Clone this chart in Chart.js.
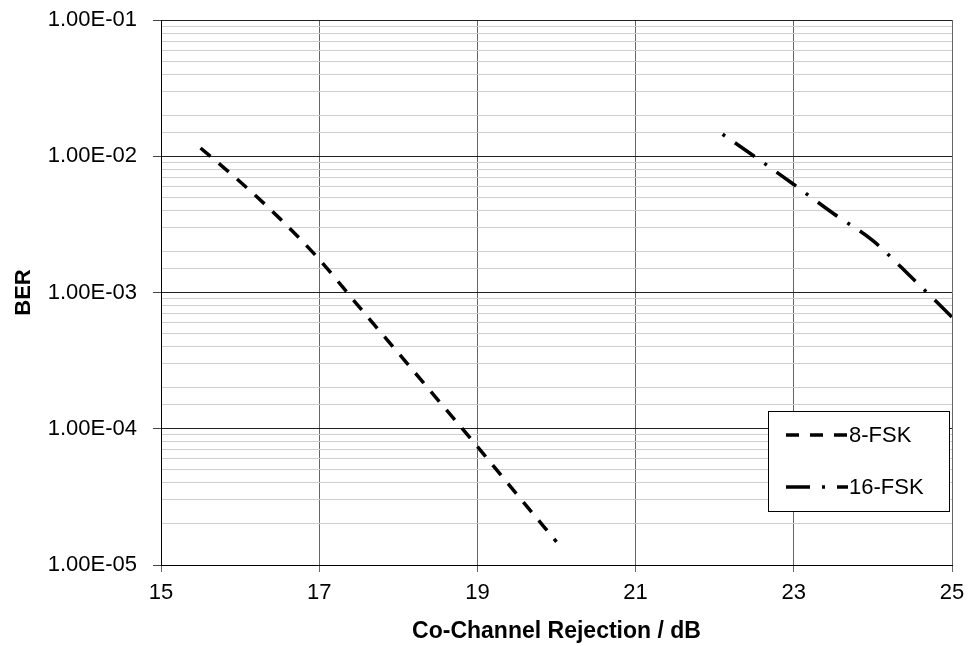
<!DOCTYPE html>
<html>
<head>
<meta charset="utf-8">
<script src="https://cdn.jsdelivr.net/npm/chart.js@4.4.1/dist/chart.umd.min.js"></script>
<style>
  body { margin: 0; background: #fff; }
  #wrap { width: 969px; height: 646px; }
</style>
</head>
<body>
<div id="wrap"><canvas id="chart" width="969" height="646"></canvas></div>
<script>
// values
const fsk8X = [15.5, 16, 16.5, 17, 17.5, 18, 18.5, 19, 19.5, 20];
const fsk8Y = [1.15e-2, 6.5e-3, 3.5e-3, 1.75e-3, 7.9e-4, 3.6e-4, 1.63e-4, 7.4e-5, 3.3e-5, 1.48e-5];
const fsk16X = [22.1, 22.5, 23, 23.5, 24, 24.5, 25];
const fsk16Y = [1.45e-2, 1.0e-2, 6.2e-3, 3.8e-3, 2.4e-3, 1.27e-3, 6.6e-4];
const seriesNames = ["8-FSK", "16-FSK"];
const xTicks = [15, 17, 19, 21, 23, 25];

const FONT = "'Liberation Sans', Arial, sans-serif";

function isDecade(v) {
  const l = Math.log10(v);
  return Math.abs(l - Math.round(l)) < 1e-9;
}
function sci(v) {
  const e = Math.round(Math.log10(v));
  const m = (v / Math.pow(10, e)).toFixed(2);
  const s = e < 0 ? "-" : "+";
  return m + "E" + s + String(Math.abs(e)).padStart(2, "0");
}

const pts = (xs, ys) => xs.map((x, i) => ({x: x, y: ys[i]}));

// legend box drawn inside the plot, like the original
const boxLegend = {
  id: "boxLegend",
  afterDraw(chart) {
    const ctx = chart.ctx, a = chart.chartArea;
    const x0 = a.right - 184, y0 = a.bottom - 154, w = 181, h = 100;
    ctx.save();
    ctx.fillStyle = "#fff";
    ctx.fillRect(x0, y0, w, h);
    ctx.strokeStyle = "#000";
    ctx.lineWidth = 1;
    ctx.strokeRect(x0 + 0.5, y0 + 0.5, w, h);
    ctx.font = "22px " + FONT;
    ctx.textBaseline = "middle";
    ctx.fillStyle = "#000";
    chart.data.datasets.forEach((ds, i) => {
      const y = y0 + 24 + i * 52;
      ctx.beginPath();
      ctx.setLineDash(ds.borderDash);
      ctx.lineDashOffset = i === 1 ? 15 : 0;
      ctx.lineWidth = 3.5;
      ctx.lineCap = "butt";
      ctx.moveTo(x0 + 18, y);
      ctx.lineTo(x0 + 80, y);
      ctx.stroke();
      ctx.setLineDash([]);
      ctx.fillText(ds.label, x0 + 81, y + 1);
    });
    ctx.restore();
  }
};

new Chart(document.getElementById("chart"), {
  type: "line",
  data: {
    datasets: [{
      label: seriesNames[0],
      data: pts(fsk8X, fsk8Y),
      borderColor: "#000",
      borderWidth: 3.5,
      borderDash: [13, 11],
      borderCapStyle: "butt",
      pointRadius: 0,
      cubicInterpolationMode: "monotone",
      fill: false
    }, {
      label: seriesNames[1],
      data: pts(fsk16X, fsk16Y),
      borderColor: "#000",
      borderWidth: 3.5,
      borderDash: [3, 12, 24, 12],
      borderCapStyle: "butt",
      pointRadius: 0,
      cubicInterpolationMode: "monotone",
      fill: false
    }]
  },
  options: {
    responsive: false,
    animation: false,
    layout: {padding: {top: 20, right: 17, left: 0, bottom: 0}},
    plugins: {legend: {display: false}, tooltip: {enabled: false}},
    scales: {
      x: {
        type: "linear",
        min: 15, max: 25,
        afterBuildTicks: s => { s.ticks = xTicks.map(v => ({value: v})); },
        afterFit: s => { s.height = 81; s.paddingLeft = 0; s.paddingRight = 0; },
        border: {color: "#000", width: 1},
        grid: {color: "#666", tickColor: "#666", tickLength: 7, lineWidth: 1},
        ticks: {color: "#000", font: {family: FONT, size: 22}, padding: 8, maxRotation: 0},
        title: {display: true, text: "Co-Channel Rejection / dB", color: "#000",
                font: {family: FONT, size: 23, weight: "bold"}, padding: {top: 0, bottom: 1}}
      },
      y: {
        type: "logarithmic",
        min: 1e-5, max: 1e-1,
        afterFit: s => { s.width = 161; s.paddingTop = 0; s.paddingBottom = 0; },
        border: {color: "#000", width: 1},
        grid: {
          color: c => isDecade(c.tick.value) ? "#222" : "#cfcfcf",
          tickColor: c => isDecade(c.tick.value) ? "#444" : "rgba(0,0,0,0)",
          tickLength: 8,
          lineWidth: 1
        },
        ticks: {
          autoSkip: false,
          color: "#000",
          font: {family: FONT, size: 22},
          padding: 16,
          callback: v => isDecade(v) ? sci(v) : ""
        },
        title: {display: true, text: "BER", color: "#000",
                font: {family: FONT, size: 22, weight: "bold"}, padding: {top: 11, bottom: 0}}
      }
    }
  },
  plugins: [boxLegend]
});
</script>
</body>
</html>
